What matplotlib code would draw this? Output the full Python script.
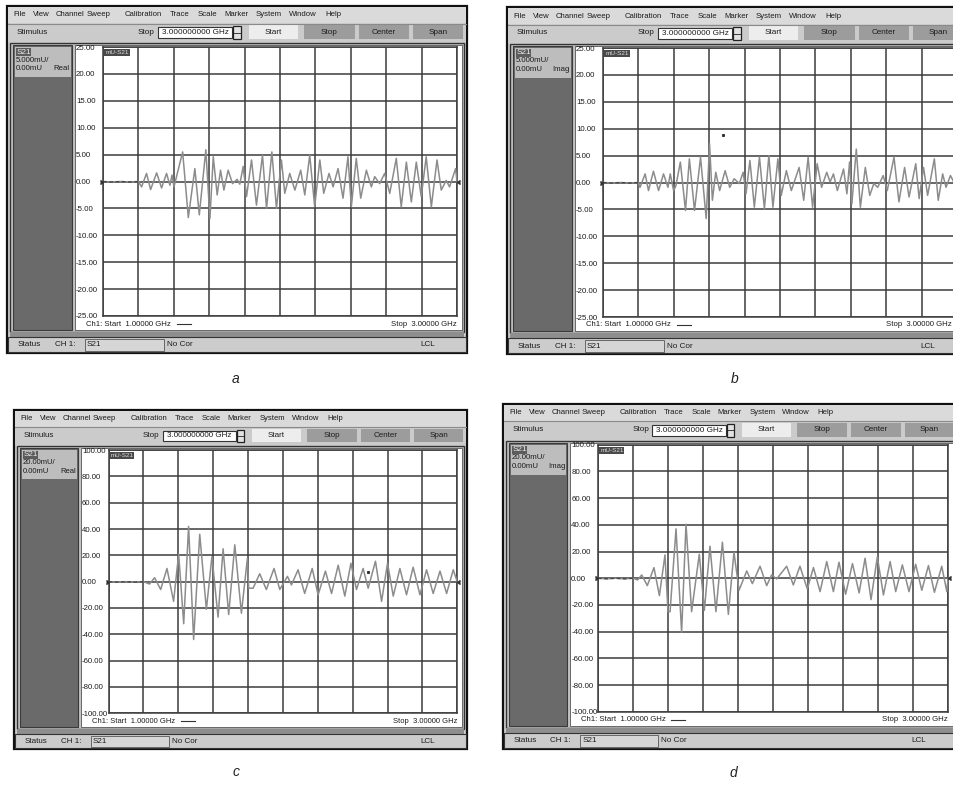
import numpy as np
import matplotlib
matplotlib.use('Agg')
import matplotlib.pyplot as plt
from matplotlib.patches import Rectangle

plt.rcParams['font.family'] = ['Liberation Sans', 'DejaVu Sans']

# S21 sweeps 1..3 GHz, turning points of each trace (GHz, mU)
freq_a = [1.0, 1.05, 1.1, 1.15, 1.2, 1.218, 1.246, 1.269, 1.303, 1.331, 1.359, 1.378, 1.39, 1.401,
          1.450, 1.482, 1.519, 1.544, 1.581, 1.604, 1.623, 1.645, 1.664, 1.683, 1.707, 1.732,
          1.758, 1.773, 1.792, 1.811, 1.839, 1.867, 1.901, 1.924, 1.954, 1.980, 2.008, 2.027,
          2.055, 2.084, 2.117, 2.140, 2.168, 2.196, 2.225, 2.247, 2.277, 2.300, 2.328, 2.356,
          2.384, 2.403, 2.431, 2.456, 2.488, 2.516, 2.535, 2.563, 2.591, 2.620, 2.657, 2.685,
          2.714, 2.742, 2.770, 2.798, 2.826, 2.855, 2.887, 2.911, 2.939, 2.958, 2.992, 3.0]
real_a = [0.0, -0.1, 0.0, -0.1, 0.0, -1.0, 1.5, -1.5, 1.6, -1.2, 1.5, -0.7, 1.2, -1.0,
          5.5, -6.7, 2.4, -6.2, 5.9, -6.9, 4.6, -2.5, 2.1, -1.6, 2.1, -0.4,
          0.4, -0.5, 2.8, -2.8, 4.0, -4.4, 4.9, -5.0, 5.5, -5.0, 4.0, -2.2,
          1.5, -1.6, 2.1, -2.5, 4.9, -4.7, 4.0, -2.2, 1.5, -1.0, 2.4, -3.1,
          4.6, -4.7, 4.3, -3.1, 2.1, -1.0, 0.9, -0.4, 1.5, -2.2, 4.3, -4.7,
          3.6, -3.8, 3.6, -2.8, 4.6, -4.7, 4.0, -1.6, 0.2, -1.0, 2.4, 0.0]

freq_b = [1.0, 1.05, 1.1, 1.15, 1.2, 1.209, 1.238, 1.257, 1.285, 1.314, 1.342, 1.367, 1.380, 1.399,
          1.412, 1.437, 1.466, 1.488, 1.517, 1.551, 1.583, 1.602, 1.618, 1.637, 1.659, 1.690,
          1.716, 1.741, 1.770, 1.792, 1.808, 1.830, 1.855, 1.884, 1.912, 1.937, 1.960, 1.988,
          2.007, 2.036, 2.064, 2.108, 2.134, 2.159, 2.184, 2.210, 2.235, 2.264, 2.283, 2.302,
          2.324, 2.359, 2.378, 2.393, 2.406, 2.431, 2.454, 2.482, 2.507, 2.530, 2.552, 2.583,
          2.606, 2.644, 2.672, 2.704, 2.729, 2.767, 2.786, 2.811, 2.834, 2.872, 2.894, 2.919,
          2.938, 2.963, 2.986, 3.0]
imag_b = [0.0, -0.1, 0.0, -0.1, 0.0, -0.9, 1.6, -1.5, 2.1, -1.5, 1.6, -0.9, 1.6, -1.5,
          -0.6, 3.8, -5.2, 4.4, -5.2, 4.7, -6.7, 7.2, -3.3, 1.9, -1.5, 2.2,
          -0.9, 0.7, -0.2, 1.9, -2.1, 4.1, -4.6, 4.7, -4.9, 5.0, -4.6, 4.4,
          -2.4, 2.2, -1.5, 2.8, -3.3, 4.7, -4.6, 3.5, -0.9, 1.9, 0.1, 1.6,
          -1.5, 2.5, -2.1, 3.8, -4.0, 6.2, -4.6, 2.8, -2.4, -0.2, -0.9, 1.3,
          -1.5, 4.7, -3.6, 2.8, -2.7, 3.5, -3.0, 2.8, -2.4, 4.4, -3.3, 1.6,
          -0.9, 1.3, -0.2, 1.0]

freq_c = [1.0, 1.05, 1.1, 1.15, 1.2, 1.235, 1.264, 1.299, 1.335, 1.373, 1.402, 1.431, 1.459, 1.488,
          1.523, 1.561, 1.593, 1.628, 1.657, 1.689, 1.724, 1.762, 1.796, 1.804, 1.829, 1.867,
          1.905, 1.949, 1.982, 2.026, 2.049, 2.087, 2.125, 2.168, 2.202, 2.244, 2.279, 2.317,
          2.355, 2.390, 2.422, 2.460, 2.489, 2.531, 2.566, 2.600, 2.633, 2.671, 2.709, 2.747,
          2.786, 2.824, 2.862, 2.901, 2.939, 2.977, 3.0]
real_c = [0.0, -0.4, 0.0, -0.4, 0.0, -1.8, 3.0, -6.0, 10.0, -15.0, 21.0, -32.0, 42.0, -44.0,
          36.0, -21.0, 19.0, -27.0, 25.0, -25.0, 28.0, -24.0, 17.5, -5.0, -5.0, 6.0,
          -6.0, 10.0, -6.0, 4.0, -2.5, 9.0, -9.0, 10.0, -10.0, 8.0, -9.0, 12.5,
          -11.0, 14.0, -6.0, 10.0, -5.0, 15.5, -15.0, 14.0, -11.0, 10.0, -10.0, 11.0,
          -10.0, 9.0, -9.0, 8.0, -9.0, 9.0, 0.0]

freq_d = [1.0, 1.05, 1.1, 1.15, 1.2, 1.227, 1.250, 1.282, 1.320, 1.351, 1.383, 1.400, 1.412, 1.446,
          1.478, 1.503, 1.535, 1.579, 1.608, 1.640, 1.674, 1.711, 1.745, 1.777, 1.806, 1.850,
          1.882, 1.926, 1.964, 1.992, 2.021, 2.078, 2.116, 2.154, 2.196, 2.231, 2.269, 2.307,
          2.345, 2.377, 2.415, 2.454, 2.492, 2.526, 2.560, 2.596, 2.631, 2.669, 2.701, 2.739,
          2.777, 2.815, 2.850, 2.888, 2.922, 2.964, 2.993, 3.0]
imag_d = [0.0, -0.4, 0.0, -0.4, 0.0, -1.2, 2.5, -5.5, 8.0, -13.0, 17.5, -25.0, -25.0, 37.0,
          -40.5, 40.5, -25.0, 18.0, -24.0, 24.0, -25.0, 27.0, -27.0, 19.5, -9.0, 5.5,
          -4.0, 9.0, -5.5, 2.5, -0.5, 9.0, -5.0, 9.0, -8.0, 8.0, -10.0, 12.5,
          -10.0, 12.0, -12.0, 11.0, -11.0, 15.0, -16.0, 16.0, -12.5, 12.5, -10.0, 10.0,
          -10.0, 10.5, -9.0, 9.5, -10.5, 9.0, -10.0, 0.0]

# single stray samples
dot_b = ([1.68], [8.9])
dot_c = ([2.489], [7.5])

ticks_ab = [25, 20, 15, 10, 5, 0, -5, -10, -15, -20, -25]
ticks_cd = [100, 80, 60, 40, 20, 0, -20, -40, -60, -80, -100]

menu_items = ['File', 'View', 'Channel', 'Sweep', 'Calibration', 'Trace', 'Scale',
              'Marker', 'System', 'Window', 'Help']
menu_x = [6, 26, 49, 80, 118, 163, 191, 217, 249, 282, 318]

W, H = 954, 787
fig = plt.figure(figsize=(W / 100, H / 100), dpi=100)
fig.patch.set_facecolor('white')
bg = fig.add_axes([0, 0, 1, 1])
bg.set_xlim(0, W)
bg.set_ylim(H, 0)
bg.axis('off')

GRID = '#3c3c3c'
TXT = '#1c1c1c'


def draw_panel(ox, oy, sx, sy, freq, vals, ticks, per_div, fmt, dot=None):
    X = lambda x: ox + x * sx
    Y = lambda y: oy + y * sy

    def rect(x0, y0, x1, y1, fc, ec='none', lw=0.8):
        bg.add_patch(Rectangle((X(x0), Y(y0)), (x1 - x0) * sx, (y1 - y0) * sy,
                               fc=fc, ec=ec, lw=lw))

    def txt(x, y, s, size=5.9, ha='left', color=TXT):
        # keep right-aligned labels inside the canvas
        px = min(X(x), W - 2) if ha == 'right' else X(x)
        bg.text(px, Y(y), s, fontsize=size * sy, ha=ha, va='center', color=color)

    # window frame, menu and stimulus toolbar
    rect(0, 0, 460, 347, '#cecece', ec='#111111', lw=1.6)
    rect(1, 1, 459, 17, '#dadada')
    bg.plot([X(1), X(459)], [Y(17.5), Y(17.5)], color='#8a8a8a', lw=0.8)
    for name, mx in zip(menu_items, menu_x):
        txt(mx, 9, name, size=5.6)
    rect(1, 18, 459, 36, '#cbcbcb')
    txt(10, 26, 'Stimulus')
    txt(131, 26, 'Stop')
    rect(151, 21, 225, 32, 'white', ec='#333333', lw=0.8)
    txt(155, 26.5, '3.000000000 GHz')
    rect(226, 20, 234, 33, '#e2e2e2', ec='#222222', lw=0.9)
    bg.plot([X(226), X(234)], [Y(26.5), Y(26.5)], color='#222222', lw=0.6)
    rect(242, 19, 291, 33, '#ededed')
    txt(266, 26, 'Start', ha='center')
    for bx0, bx1, lab in [(297, 348, 'Stop'), (352, 402, 'Center'), (406, 456, 'Span')]:
        rect(bx0, 19, bx1, 33, '#9c9c9c')
        txt((bx0 + bx1) / 2, 26, lab, ha='center')

    # channel area
    rect(3, 37, 457, 326, '#c2c2c2', ec='#333333', lw=1.0)
    rect(6, 39, 65, 324, '#6a6a6a', ec='#3a3a3a', lw=0.8)
    rect(8, 41, 64, 71, '#bdbdbd')
    rect(9, 42, 24, 50, '#5c5c5c')
    txt(10, 46, 'S21', color='#eeeeee')
    txt(9, 54, per_div, size=5.6)
    txt(9, 62.5, '0.00mU', size=5.6)
    txt(63, 62.5, fmt, size=5.6, ha='right')
    rect(68, 39, 455, 324, 'white', ec='#555555', lw=0.6)
    txt(79, 318, 'Ch1: Start  1.00000 GHz', size=5.6)
    bg.plot([X(170), X(184)], [Y(318), Y(318)], color='#333333', lw=0.8)
    txt(450, 318, 'Stop  3.00000 GHz', size=5.6, ha='right')

    # status bar
    rect(3, 326, 457, 331, '#8e8e8e')
    rect(1, 331, 459, 346, '#cccccc', ec='#333333', lw=0.8)
    txt(11, 339, 'Status')
    txt(48, 339, 'CH 1:')
    rect(78, 333, 157, 345, '#d6d6d6', ec='#555555', lw=0.6)
    txt(80, 339, 'S21')
    txt(160, 339, 'No Cor')
    txt(413, 339, 'LCL')

    # trace display
    gx0, gy0, gx1, gy1 = X(96), Y(41), X(450), Y(310)
    ax = fig.add_axes([gx0 / W, 1 - gy1 / H, (gx1 - gx0) / W, (gy1 - gy0) / H])
    ax.set_facecolor('white')
    ax.set_xlim(1.0, 3.0)
    ax.set_ylim(ticks[-1], ticks[0])
    ax.set_xticks(np.linspace(1.0, 3.0, 11))
    ax.set_yticks(ticks)
    ax.set_yticklabels(['%.2f' % t for t in ticks])
    ax.grid(True, color=GRID, lw=1.1)
    for sp in ax.spines.values():
        sp.set_color(GRID)
        sp.set_linewidth(1.1)
    pad_pt = (gx0 - X(69)) * 0.72
    ax.tick_params(length=0, labelbottom=False, labelsize=5.7 * sy, pad=pad_pt,
                   labelcolor=TXT)
    for lbl in ax.get_yticklabels():
        lbl.set_horizontalalignment('left')

    ax.plot(freq, vals, color='#8c8c8c', lw=1.1, zorder=3)
    ax.plot(freq[:5], vals[:5], color='#444444', lw=0.9, ls=(0, (3, 2)), zorder=4)
    ax.plot(freq[0], vals[0], marker=5, ms=3, color='#333333', zorder=5, clip_on=False)
    ax.plot(freq[-1], vals[-1], marker=4, ms=3, color='#333333', zorder=5, clip_on=False)
    if dot is not None:
        ax.plot(dot[0], dot[1], 's', ms=1.2, color='#333333', zorder=5)
    ax.text(0.006, 0.988, 'mU-S21', transform=ax.transAxes, fontsize=4.6 * sy,
            color='#dddddd', ha='left', va='top', zorder=6,
            bbox=dict(boxstyle='square,pad=0.15', fc='#4a4a4a', ec='none'))


draw_panel(7, 6, 1.0, 1.0, freq_a, real_a, ticks_ab, '5.000mU/', 'Real')
draw_panel(507, 7, 1.0, 1.0, freq_b, imag_b, ticks_ab, '5.000mU/', 'Imag', dot=dot_b)
draw_panel(14, 410, 0.985, 0.978, freq_c, real_c, ticks_cd, '20.00mU/', 'Real', dot=dot_c)
draw_panel(503, 404, 0.989, 0.993, freq_d, imag_d, ticks_cd, '20.00mU/', 'Imag')

for lab, cx, cy in [('a', 236, 379), ('b', 735, 379), ('c', 236, 772), ('d', 733, 773)]:
    bg.text(cx, cy, lab, fontsize=10, style='italic', ha='center', va='center', color='#222222')

fig.savefig('out.png', dpi=100, facecolor='white')
